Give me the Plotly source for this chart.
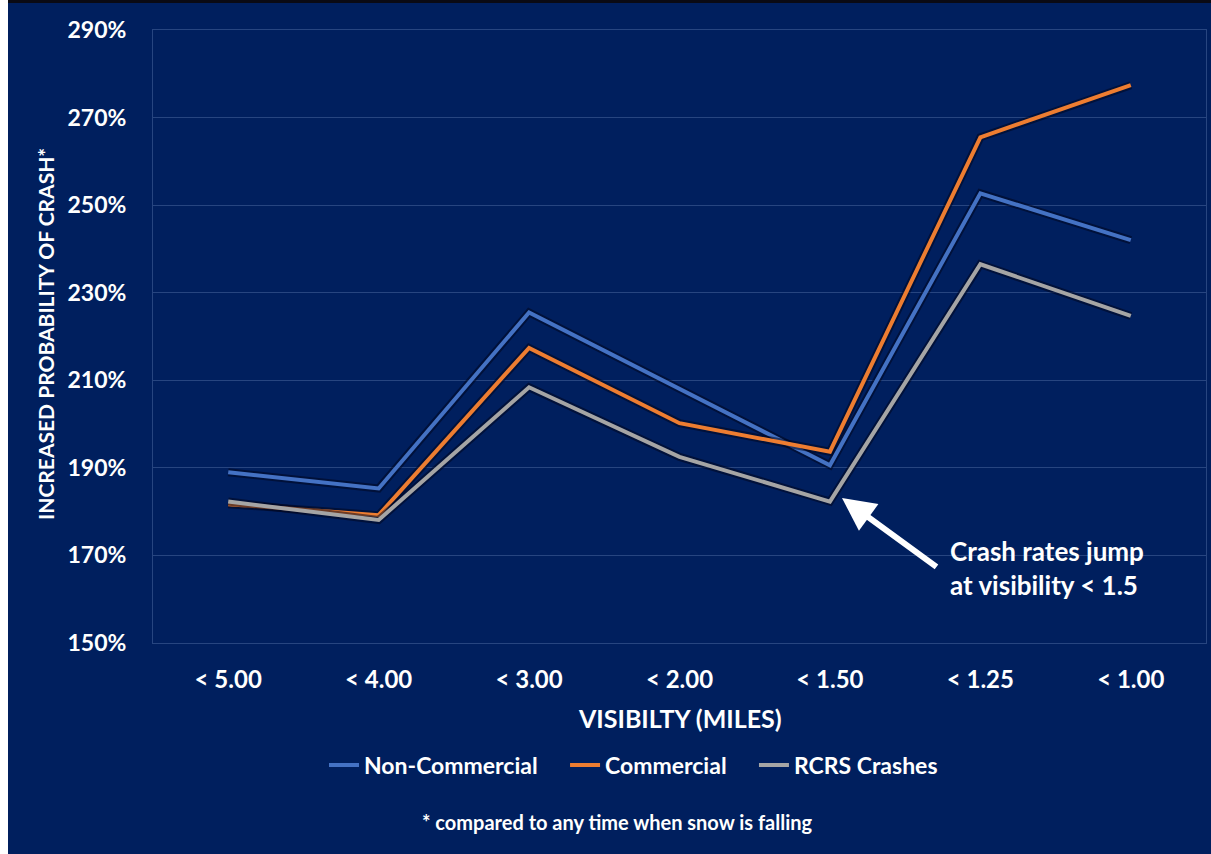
import plotly.graph_objects as go

# Visibility bands and increased crash probability (%) per vehicle group
categories = ["< 5.00", "< 4.00", "< 3.00", "< 2.00", "< 1.50", "< 1.25", "< 1.00"]
non_commercial = [189.0, 185.3, 225.5, 208.1, 190.6, 252.7, 242.0]
commercial = [181.7, 179.2, 217.4, 200.2, 193.7, 265.5, 277.4]
rcrs_crashes = [182.3, 178.1, 208.4, 192.5, 182.3, 236.5, 224.7]
y_tick_values = [150, 170, 190, 210, 230, 250, 270, 290]
y_tick_labels = [f"{v}%" for v in y_tick_values]

W, H = 1211, 854
M_L, M_R, M_T, M_B = 153, 5, 30, 211
PLOT_W = W - M_L - M_R
PLOT_H = H - M_T - M_B


def px_x(px):
    return (px - M_L) / PLOT_W


def px_y(py):
    return (H - M_B - py) / PLOT_H


NAVY = "#001F5E"
GRID = "rgba(130,160,210,0.30)"
FONT = "Lato"
PAD = "\u00a0" * 4

series = [
    ("Non-Commercial", non_commercial, "#4472C4"),
    ("Commercial", commercial, "#ED7D31"),
    ("RCRS Crashes", rcrs_crashes, "#A5A5A5"),
]

fig = go.Figure()

for i, (name, vals, color) in enumerate(series):
    # soft dark halo under each line
    fig.add_trace(go.Scatter(
        x=categories, y=vals, mode="lines",
        line=dict(color="rgba(0,5,30,0.55)", width=8),
        showlegend=False, hoverinfo="skip",
    ))
    fig.add_trace(go.Scatter(
        x=categories, y=vals, mode="lines",
        name=name + (PAD if i < len(series) - 1 else ""),
        line=dict(color=color, width=4),
    ))

fig.update_layout(
    width=W, height=H,
    margin=dict(l=M_L, r=M_R, t=M_T, b=M_B, autoexpand=False),
    paper_bgcolor=NAVY, plot_bgcolor=NAVY,
    font=dict(family=FONT, color="white"),
    xaxis=dict(
        type="category", range=[-0.5, len(categories) - 0.5],
        showgrid=False, zeroline=False,
        showline=True, linecolor=GRID, linewidth=1, mirror=True,
        tickfont=dict(size=24, weight="bold", color="white"),
        ticklabelstandoff=15, ticks="", automargin=False,
    ),
    yaxis=dict(
        range=[150, 290], tickmode="array",
        tickvals=y_tick_values, ticktext=y_tick_labels,
        showgrid=True, gridcolor=GRID, gridwidth=1, zeroline=False,
        showline=True, linecolor=GRID, linewidth=1, mirror=True,
        tickfont=dict(size=23, weight="bold", color="white"),
        ticklabelstandoff=21, ticks="", automargin=False,
    ),
    legend=dict(
        orientation="h", x=px_x(324), xanchor="left",
        y=px_y(765), yanchor="middle",
        font=dict(size=23, weight="bold", color="white"),
        bgcolor="rgba(0,0,0,0)", itemwidth=30,
    ),
    showlegend=True,
)

annotations = [
    dict(text="INCREASED PROBABILITY OF CRASH*", textangle=-90,
         x=px_x(45), y=px_y(334), xref="paper", yref="paper",
         xanchor="center", yanchor="middle",
         showarrow=False, font=dict(size=21, weight="bold", color="white")),
    dict(text="VISIBILTY (MILES)",
         x=px_x(680), y=px_y(718), xref="paper", yref="paper",
         xanchor="center", yanchor="middle",
         showarrow=False, font=dict(size=25, weight="bold", color="white")),
    dict(text="* compared to any time when snow is falling",
         x=px_x(617), y=px_y(822), xref="paper", yref="paper",
         xanchor="center", yanchor="middle",
         showarrow=False, font=dict(size=20, weight="bold", color="white")),
    # arrow pointing at the < 1.50 low point
    dict(text="", x=px_x(842), y=px_y(498), xref="paper", yref="paper",
         ax=96, ay=70, axref="pixel", ayref="pixel",
         showarrow=True, arrowhead=2, arrowsize=1.1, arrowwidth=6,
         arrowcolor="white", standoff=0),
    dict(text="Crash rates jump<br>at visibility < 1.5",
         x=px_x(948), y=px_y(568), xref="paper", yref="paper",
         xanchor="left", yanchor="middle", align="left",
         showarrow=False, font=dict(size=26, weight="bold", color="white")),
]
fig.update_layout(annotations=annotations)

# white strip on the left edge and thin dark rule along the top
fig.update_layout(shapes=[
    dict(type="rect", xref="paper", yref="paper",
         x0=px_x(0), x1=px_x(8), y0=px_y(H), y1=px_y(0),
         fillcolor="white", line=dict(width=0), layer="above"),
    dict(type="rect", xref="paper", yref="paper",
         x0=px_x(8), x1=px_x(W), y0=px_y(3), y1=px_y(0),
         fillcolor="#0A0A14", line=dict(width=0), layer="above"),
])

fig.write_html("out.html")
